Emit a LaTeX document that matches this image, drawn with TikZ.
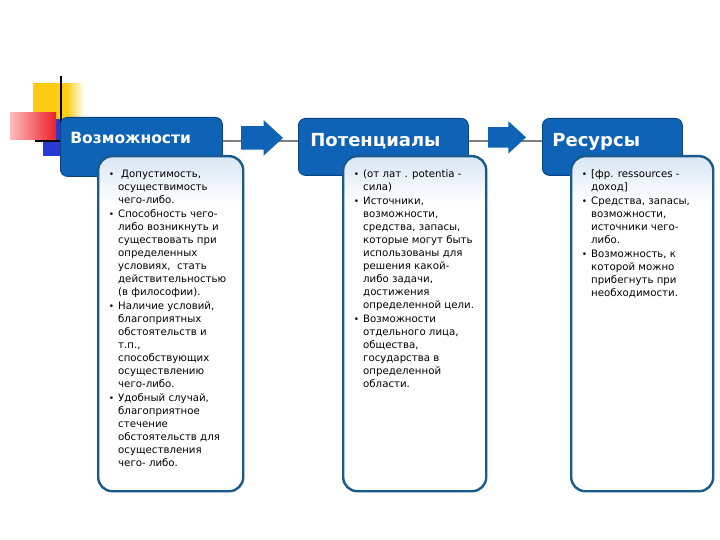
\documentclass[tikz,border=0pt]{standalone}
\usepackage{fontspec}
\setmainfont{DejaVu Sans}
\usepackage{enumitem}
\usetikzlibrary{positioning, shapes.arrows}

\definecolor{titleblue}{RGB}{14,99,183}
\definecolor{titleedge}{RGB}{12,66,128}
\definecolor{frameblue}{RGB}{24,90,140}
\definecolor{boxtop}{RGB}{216,230,245}
\definecolor{lineGray}{RGB}{128,128,128}
\definecolor{decoyellow}{RGB}{255,204,20}
\definecolor{decored}{RGB}{238,32,40}
\definecolor{decoblue}{RGB}{40,58,212}

\pgfdeclareverticalshading{boxfade}{100bp}{color(0bp)=(white); color(25bp)=(white); color(68bp)=(white); color(75bp)=(boxtop); color(100bp)=(boxtop)}
\pgfdeclarehorizontalshading{yellowfade}{100bp}{color(0bp)=(decoyellow); color(25bp)=(decoyellow); color(58bp)=(decoyellow); color(75bp)=(white); color(100bp)=(white)}

\newcommand{\spisok}[1]{\fontsize{10.2}{13}\selectfont\raggedright
  \begin{itemize}[label={\small\textbullet}, leftmargin=10pt, labelsep=4pt, labelindent=0pt,
    rightmargin=0pt, itemsep=1pt, topsep=0pt, partopsep=0pt, parsep=0pt]#1\end{itemize}}

\begin{document}
\begin{tikzpicture}[x=1pt, y=-1pt,
    title/.style={draw=titleedge, line width=0.8pt, fill=titleblue, rounded corners=7pt,
        text=white, align=left, inner ysep=0pt, anchor=north west},
    txtbox/.style={draw=frameblue, line width=2.4pt, rounded corners=14pt, shade, shading=boxfade,
        inner xsep=10pt, inner ysep=14pt, anchor=north west},
    strelka/.style={single arrow, fill=titleblue, minimum height=42pt, inner xsep=0pt, inner ysep=11.5pt,
        single arrow head extend=6pt, single arrow tip angle=85},
    grayline/.style={draw=lineGray, line width=2.4pt}]
    \path[use as bounding box, fill=white] (0,0) rectangle (720,540);

    \shade[shading=yellowfade] (33,84) rectangle (84,121);
    \fill[decoblue] (43,119) rectangle (64,156);
    \shade[left color=decored!30!white, right color=decored] (10,113) rectangle (56,140);
    \draw[line width=2pt] (61,76) -- (61,141);
    \coordinate (l_start) at (35,141);

    \node[title, font=\bfseries\fontsize{15.5}{18}\selectfont, text width=142pt, inner xsep=10pt,
        text height=26pt, text depth=33pt] (vozm) at (60,117) {Возможности};
    \node[title, font=\bfseries\fontsize{18}{21}\selectfont, text width=146pt, inner xsep=12pt,
        text height=28pt, text depth=29pt] (pot) at (298,118) {Потенциалы};
    \node[title, font=\bfseries\fontsize{18}{21}\selectfont, text width=120pt, inner xsep=10pt,
        text height=28pt, text depth=29pt] (res) at (542,118) {Ресурсы};

    \draw[line width=2pt] (l_start) -- (l_start -| vozm.west);
    \path[grayline] (vozm.east |- l_start) -- (pot.west |- l_start)
                    (pot.east |- l_start) -- (res.west |- l_start);

    \node[strelka, right=18pt of vozm.east, yshift=9pt] (str_1) {};
    \node[strelka, minimum height=38pt, inner ysep=10pt, right=19pt of pot.east, yshift=9.5pt] (str_2) {};

    \node[txtbox] (vozm_t) at (97,155) {\parbox[t][307pt][t]{125pt}{\spisok{
        \item \hspace{3pt}Допустимость,\\осуществимость\\чего-либо.
        \item Способность чего-\\либо возникнуть и\\существовать при\\определенных\\условиях,~ стать\\действительностью\\(в философии).
        \item Наличие условий,\\благоприятных\\обстоятельств и\\т.п.,\\способствующих\\осуществлению\\чего-либо.
        \item Удобный случай,\\благоприятное\\стечение\\обстоятельств для\\осуществления\\чего- либо.}}};
    \node[txtbox] (pot_t) at (342,155) {\parbox[t][307pt][t]{123pt}{\spisok{
        \item (от лат . potentia -\\сила)
        \item Источники,\\возможности,\\средства, запасы,\\которые могут быть\\использованы для\\решения какой-\\либо задачи,\\достижения\\определенной цели.
        \item Возможности\\отдельного лица,\\общества,\\государства в\\определенной\\области.}}};
    \node[txtbox] (res_t) at (570,155) {\parbox[t][307pt][t]{122pt}{\spisok{
        \item {[}фр. ressources -\\доход{]}
        \item Средства, запасы,\\возможности,\\источники чего-\\либо.
        \item Возможность, к\\которой можно\\прибегнуть при\\необходимости.}}};
\end{tikzpicture}
\end{document}
